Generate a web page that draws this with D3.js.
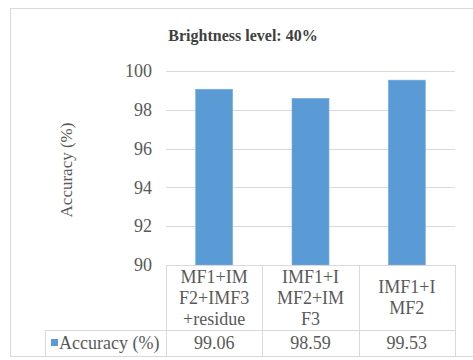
<!DOCTYPE html>
<html>
<head>
<meta charset="utf-8">
<script src="https://cdn.jsdelivr.net/npm/d3@7/dist/d3.min.js"></script>
<style>
  html, body { margin: 0; padding: 0; background: #ffffff; }
  svg { display: block; }
  svg#chart text, svg#chart tspan { font-family: 'Liberation Serif', serif !important; }
</style>
</head>
<body>
<svg id="chart" width="473" height="360"></svg>
<script>
// Chart data
const title = "Brightness level: 40%";
const seriesName = "Accuracy (%)";
const categoryLines = [
  ["MF1+IM", "F2+IMF3", "+residue"],
  ["IMF1+I", "MF2+IM", "F3"],
  ["IMF1+I", "MF2"]
];
const accuracy = [99.06, 98.59, 99.53];
const valueLabels = ["99.06", "98.59", "99.53"];
const yTicks = [90, 92, 94, 96, 98, 100];

const textColor = "#595959";
const gridColor = "#d9d9d9";

const svg = d3.select("#chart");

// Layout
const plot = { left: 166, right: 455, top: 71, bottom: 265 };
const table = { legendLeft: 45, catBottom: 330, rowBottom: 356 };

const x = d3.scaleBand()
  .domain(d3.range(accuracy.length))
  .range([plot.left, plot.right])
  .padding(0);

const y = d3.scaleLinear()
  .domain([90, 100])
  .range([plot.bottom, plot.top]);

function styleText(sel, size) {
  return sel.style("font-family", "'Liberation Serif'")
    .style("font-size", size + "px")
    .style("fill", textColor);
}

// Outer chart frame
svg.append("rect")
  .attr("x", 10.5).attr("y", 8.5)
  .attr("width", 470).attr("height", 348)
  .attr("fill", "none")
  .attr("stroke", gridColor)
  .attr("stroke-width", 1);

// Title
styleText(svg.append("text"), 16)
  .attr("x", 243).attr("y", 41)
  .attr("text-anchor", "middle")
  .style("font-weight", "bold")
  .style("fill", "#404040")
  .text(title);

// Gridlines and y axis labels
const yAxis = d3.axisLeft(y)
  .tickValues(yTicks)
  .tickSize(-(plot.right - plot.left))
  .tickPadding(14)
  .tickFormat(d3.format("d"));

const gy = svg.append("g")
  .attr("transform", `translate(${plot.left},0)`)
  .call(yAxis);
gy.attr("font-family", null).attr("font-size", null);
gy.select(".domain").remove();
gy.selectAll(".tick line")
  .attr("stroke", gridColor)
  .attr("stroke-width", 1)
  .attr("shape-rendering", "crispEdges");
styleText(gy.selectAll(".tick text"), 18);

// Y axis title
styleText(svg.append("text"), 17)
  .attr("transform", `translate(72, ${(plot.top + plot.bottom) / 2 + 2}) rotate(-90)`)
  .attr("text-anchor", "middle")
  .text(seriesName);

// Bars
const barWidth = 37;
svg.append("g")
  .selectAll("rect")
  .data(accuracy)
  .join("rect")
  .attr("x", (d, i) => x(i) + x.bandwidth() / 2 - barWidth / 2)
  .attr("width", barWidth)
  .attr("y", d => y(d))
  .attr("height", d => y(90) - y(d))
  .attr("fill", "#5b9bd5")
  .attr("stroke", "#7aaee0")
  .attr("stroke-width", 0.6);

// Data table beneath the plot
const tbl = svg.append("g")
  .attr("stroke", gridColor)
  .attr("stroke-width", 1)
  .attr("shape-rendering", "crispEdges");

tbl.append("line")
  .attr("x1", plot.left).attr("x2", plot.right)
  .attr("y1", plot.bottom + 0.5).attr("y2", plot.bottom + 0.5);
tbl.append("line")
  .attr("x1", table.legendLeft).attr("x2", plot.right)
  .attr("y1", table.catBottom + 0.5).attr("y2", table.catBottom + 0.5);
tbl.append("line")
  .attr("x1", table.legendLeft).attr("x2", plot.right)
  .attr("y1", table.rowBottom + 0.5).attr("y2", table.rowBottom + 0.5);

// column separators
const colEdges = d3.range(accuracy.length + 1).map(i => i < accuracy.length ? x(i) : plot.right);
tbl.selectAll("line.col")
  .data(colEdges)
  .join("line")
  .attr("class", "col")
  .attr("x1", d => d + 0.5).attr("x2", d => d + 0.5)
  .attr("y1", plot.bottom).attr("y2", table.rowBottom);
tbl.append("line")
  .attr("x1", table.legendLeft + 0.5).attr("x2", table.legendLeft + 0.5)
  .attr("y1", table.catBottom).attr("y2", table.rowBottom);

// category labels (wrapped)
const lineH = 21;
const catMid = (plot.bottom + table.catBottom) / 2;
const catText = styleText(svg.append("g")
  .selectAll("text")
  .data(categoryLines)
  .join("text"), 18)
  .attr("text-anchor", "middle")
  .attr("x", (d, i) => x(i) + x.bandwidth() / 2);
catText.each(function (lines) {
  const t = d3.select(this);
  const y0 = catMid - (lines.length - 1) * lineH / 2 + 6;
  lines.forEach((ln, k) => {
    t.append("tspan")
      .attr("x", t.attr("x"))
      .attr("y", y0 + k * lineH)
      .text(ln);
  });
});

// legend key and value row
const rowMid = (table.catBottom + table.rowBottom) / 2;
svg.append("rect")
  .attr("x", 51).attr("y", rowMid - 4)
  .attr("width", 7).attr("height", 7)
  .attr("fill", "#5b9bd5");
styleText(svg.append("text"), 18)
  .attr("x", 59).attr("y", rowMid + 6)
  .text(seriesName);

styleText(svg.append("g")
  .selectAll("text")
  .data(valueLabels)
  .join("text"), 18)
  .attr("x", (d, i) => x(i) + x.bandwidth() / 2)
  .attr("y", rowMid + 6)
  .attr("text-anchor", "middle")
  .text(d => d);
</script>
</body>
</html>
